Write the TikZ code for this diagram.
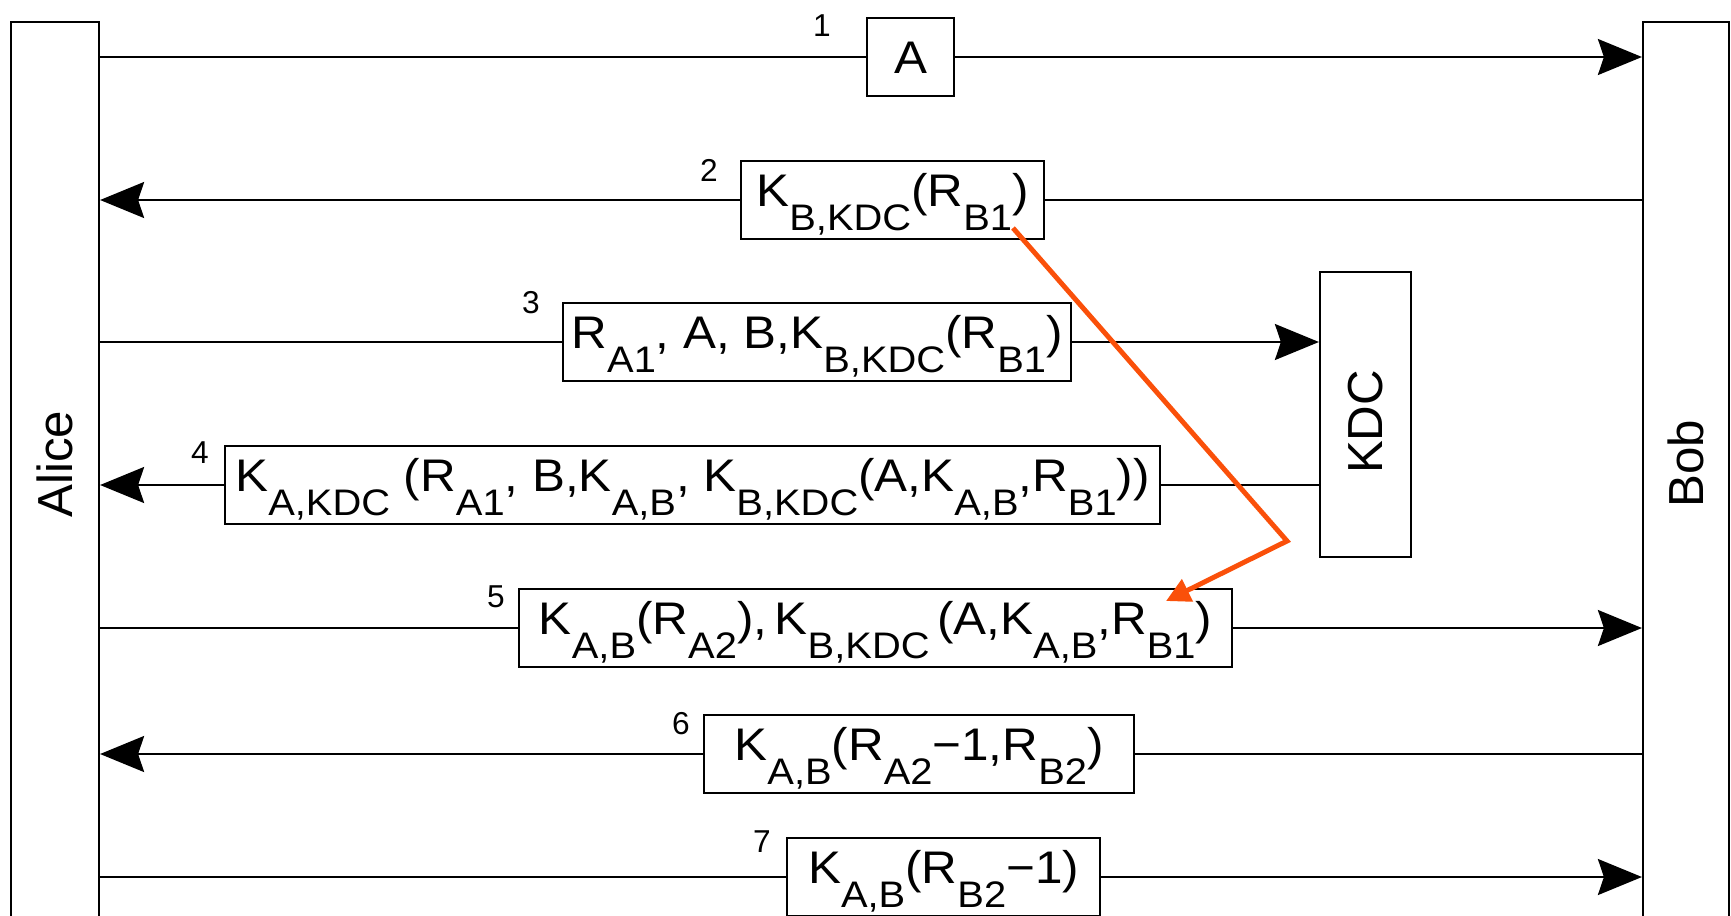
\documentclass[tikz,border=0pt]{standalone}
\usepackage{fontspec}
\setmainfont{Liberation Sans}
\newfontfamily\msgfont{Liberation Sans}[FakeStretch=1.08]
\usetikzlibrary{arrows.meta, positioning}
\definecolor{KeyOrange}{RGB}{250, 80, 10}

\newcommand{\sbs}[1]{\raisebox{-6.8pt}{\fontsize{10.5}{10.5}\selectfont #1}}

\begin{document}
\begin{tikzpicture}[x=0.01cm, y=-0.01cm,
    party/.style={draw, line width=0.6pt, inner sep=0pt},
    partytext/.style={rotate=90, inner sep=0pt, font=\fontsize{14}{14}\selectfont},
    msgbox/.style={draw, fill=white, line width=0.6pt, minimum height=0.78cm, inner sep=0pt,
      font=\msgfont\fontsize{13}{13}\selectfont, text height=9.5pt, text depth=5.7pt},
    num/.style={inner sep=0pt, font=\fontsize{9}{9}\selectfont},
    wire/.style={line width=0.6pt},
    msg/.style={line width=0.6pt, -{Stealth[length=4.4mm, width=3.6mm, inset=0.6mm]}}]

  \clip (0,0) rectangle (1731,915);

  % Parties
  \node[party, minimum width=0.88cm, minimum height=9.12cm] (alice) at (55,478) {};
  \node[party, minimum width=0.86cm, minimum height=9.12cm] (bob) at (1686,478) {};
  \node[party, minimum width=0.91cm, minimum height=2.85cm] (kdc) at (1365.5,414.5) {};
  \node[partytext] (alicetxt) at (55,464) {Alice};
  \node[partytext] (bobtxt) at (1686,464) {Bob};
  \node[partytext] (kdctxt) at (1366,422) {KDC};

  % Messages
  \node[msgbox, minimum width=0.87cm, text depth=0.2pt] (m1) at (910.5,57) {A};
  \node[msgbox, minimum width=3.03cm] (m2) at (892.5,200) {K\sbs{B,KDC}(R\sbs{B1})};
  \node[msgbox, minimum width=5.08cm] (m3) at (817,342) {R\sbs{A1}, A, B,K\sbs{B,KDC}(R\sbs{B1})};
  \node[msgbox, minimum width=9.35cm] (m4) at (692.5,485)
    {K\sbs{A,KDC} (R\sbs{A1}, B,K\sbs{A,B}, K\sbs{B,KDC}(A,K\sbs{A,B},R\sbs{B1}))};
  \node[msgbox, minimum width=7.13cm] (m5) at (875.5,628)
    {K\sbs{A,B}(R\sbs{A2}),\,K\sbs{B,KDC}\,(A,K\sbs{A,B},R\sbs{B1})};
  \node[msgbox, minimum width=4.30cm] (m6) at (919,754) {K\sbs{A,B}(R\sbs{A2}−1,R\sbs{B2})};
  \node[msgbox, minimum width=3.13cm] (m7) at (943.5,877) {K\sbs{A,B}(R\sbs{B2}−1)};

  % Step numbers
  \node[num] (n1) at (822,26) {1};
  \node[num] (n2) at (709,170) {2};
  \node[num] (n3) at (531,303) {3};
  \node[num] (n4) at (200,453) {4};
  \node[num] (n5) at (496,597) {5};
  \node[num] (n6) at (681,724) {6};
  \node[num] (n7) at (762,842) {7};

  % Lines
  \draw[wire] (m1.west -| alice.east) -- (m1.west);
  \draw[msg] (m1.east) -- (m1.east -| bob.west);
  \draw[msg] (m2.west) -- (m2.west -| alice.east);
  \draw[wire] (m2.east) -- (m2.east -| bob.west);
  \draw[wire] (m3.west -| alice.east) -- (m3.west);
  \draw[msg] (m3.east) -- (m3.east -| kdc.west);
  \draw[msg] (m4.west) -- (m4.west -| alice.east);
  \draw[wire] (m4.east) -- (m4.east -| kdc.west);
  \draw[wire] (m5.west -| alice.east) -- (m5.west);
  \draw[msg] (m5.east) -- (m5.east -| bob.west);
  \draw[msg] (m6.west) -- (m6.west -| alice.east);
  \draw[wire] (m6.east) -- (m6.east -| bob.west);
  \draw[wire] (m7.west -| alice.east) -- (m7.west);
  \draw[msg] (m7.east) -- (m7.east -| bob.west);

  % Ticket passed on
  \coordinate (rb2) at (1013,228);
  \coordinate (turn) at (1287,541);
  \coordinate (rb5) at (1166,601);
  \draw[KeyOrange, line width=1.4pt, -{Triangle[length=2.4mm, width=2.4mm]}] (rb2) -- (turn) -- (rb5);
\end{tikzpicture}
\end{document}
